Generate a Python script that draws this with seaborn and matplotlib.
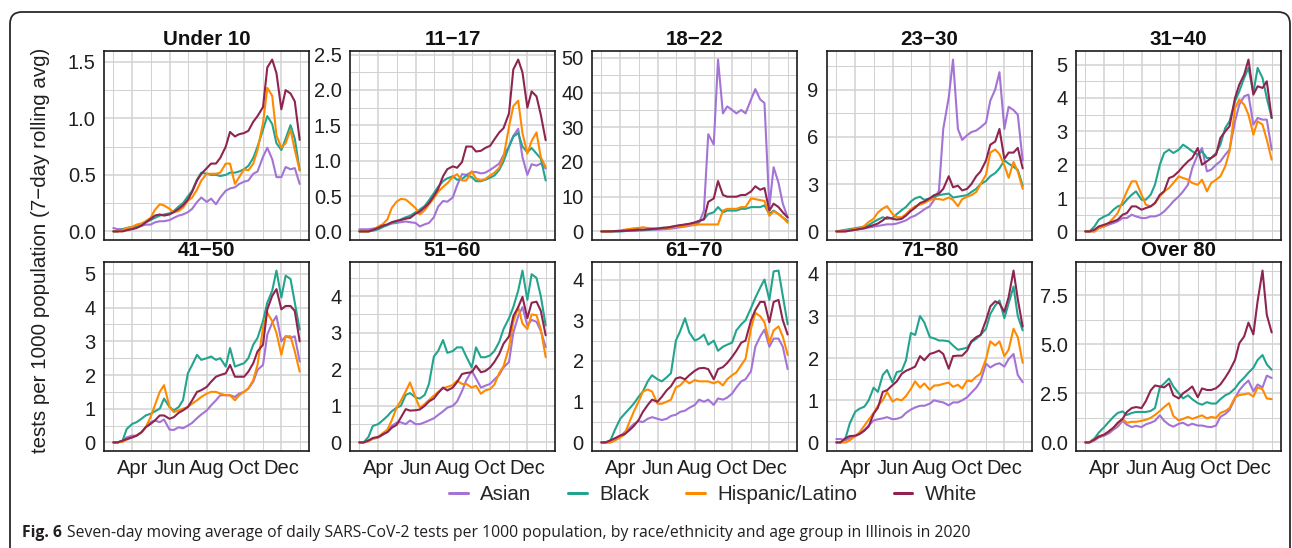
import matplotlib
matplotlib.use("Agg")
import matplotlib.pyplot as plt
from matplotlib.patches import FancyBboxPatch
from matplotlib.lines import Line2D
from matplotlib.transforms import IdentityTransform
import matplotlib.dates as mdates
import numpy as np
import pandas as pd
import seaborn as sns

# ---------------- data ----------------
DATES = ["2020-03-01", "2020-03-08", "2020-03-16", "2020-03-23",
         "2020-04-01", "2020-04-08", "2020-04-16", "2020-04-23",
         "2020-05-01", "2020-05-08", "2020-05-16", "2020-05-23",
         "2020-06-01", "2020-06-08", "2020-06-16", "2020-06-23",
         "2020-07-01", "2020-07-08", "2020-07-16", "2020-07-23",
         "2020-08-01", "2020-08-08", "2020-08-16", "2020-08-23",
         "2020-09-01", "2020-09-08", "2020-09-16", "2020-09-23",
         "2020-10-01", "2020-10-08", "2020-10-16", "2020-10-23",
         "2020-11-01", "2020-11-08", "2020-11-16", "2020-11-23",
         "2020-12-01", "2020-12-08", "2020-12-16", "2020-12-23",
         "2020-12-31"]

RACES = ["Asian", "Black", "Hispanic/Latino", "White"]
GROUPS = ["Under 10", "11\u221217", "18\u221222", "23\u221230", "31\u221240",
          "41\u221250", "51\u221260", "61\u221270", "71\u221280", "Over 80"]

u10_asian = [0.03,0.02,0.02,0.02, 0.03,0.04,0.05,0.06, 0.06,0.08,0.09,0.09, 0.10,0.12,0.14,0.15, 0.17,0.20,0.26,0.30, 0.26,0.29,0.24,0.30, 0.36,0.38,0.39,0.42, 0.44,0.45,0.51,0.53, 0.66,0.74,0.64,0.48, 0.48,0.57,0.55,0.56, 0.42]
u10_black = [0,0,0.02,0.03, 0.04,0.04,0.06,0.08, 0.10,0.12,0.14,0.15, 0.16,0.18,0.22,0.25, 0.31,0.36,0.46,0.52, 0.51,0.50,0.50,0.49, 0.50,0.52,0.52,0.53, 0.55,0.58,0.65,0.75, 0.90,1.02,0.95,0.78, 0.72,0.82,0.94,0.82, 0.54]
u10_hisp = [0,0,0.01,0.03, 0.04,0.06,0.07,0.09, 0.12,0.19,0.24,0.23, 0.20,0.17,0.18,0.21, 0.27,0.30,0.37,0.45, 0.51,0.51,0.51,0.52, 0.60,0.60,0.42,0.48, 0.55,0.54,0.60,0.72, 0.96,1.27,1.20,0.85, 0.74,0.78,0.90,0.72, 0.54]
u10_white = [0,0,0,0.01, 0.02,0.03,0.05,0.08, 0.11,0.14,0.15,0.14, 0.15,0.17,0.20,0.23, 0.28,0.35,0.45,0.51, 0.56,0.60,0.60,0.65, 0.75,0.88,0.84,0.86, 0.87,0.89,0.97,1.02, 1.10,1.45,1.52,1.40, 1.08,1.25,1.22,1.15, 0.81]

g1117_asian = [0.03,0.03,0.03,0.04, 0.05,0.07,0.09,0.11, 0.12,0.13,0.14,0.13, 0.12,0.07,0.10,0.12, 0.20,0.35,0.43,0.42, 0.48,0.65,0.81,0.80, 0.84,0.84,0.82,0.83, 0.87,0.91,0.96,1.08, 1.20,1.35,1.45,1.05, 0.80,0.95,0.93,0.96, 0.89]
g1117_black = [0,0,0,0.01, 0.03,0.06,0.09,0.12, 0.14,0.17,0.20,0.22, 0.27,0.31,0.36,0.44, 0.54,0.63,0.71,0.75, 0.78,0.73,0.74,0.79, 0.77,0.71,0.71,0.73, 0.76,0.79,0.87,0.99, 1.20,1.34,1.39,1.20, 1.12,1.18,1.10,1.03, 0.72]
g1117_hisp = [0,0,0,0.02, 0.07,0.10,0.17,0.33, 0.42,0.46,0.45,0.40, 0.33,0.24,0.30,0.38, 0.47,0.56,0.63,0.68, 0.77,0.81,0.72,0.72, 0.85,0.75,0.72,0.74, 0.79,0.83,0.90,1.05, 1.48,1.77,1.85,1.39, 1.10,1.28,1.40,1.05, 0.91]
g1117_white = [0,0,0,0.02, 0.05,0.08,0.10,0.13, 0.15,0.16,0.18,0.19, 0.25,0.28,0.34,0.40, 0.50,0.60,0.78,0.88, 0.92,0.90,0.98,1.20, 1.20,1.13,1.14,1.18, 1.21,1.30,1.40,1.46, 1.67,2.29,2.43,2.25, 1.75,1.98,1.91,1.65, 1.29]

g1822_asian = [0,0,0,0, 0.1,0.1,0.2,0.2, 0.3,0.3,0.4,0.5, 0.5,0.6,0.7,0.8, 1.0,1.2,1.4,1.6, 2.0,2.5,6.0,28.0, 25.0,49.5,34.0,36.0, 35.0,34.0,35.0,34.0, 38.0,41.0,38.0,37.0, 7.0,18.5,14.0,8.0, 4.0]
g1822_black = [0,0,0,0, 0,0.1,0.2,0.2, 0.3,0.4,0.5,0.6, 0.8,1.0,1.1,1.3, 1.5,1.7,1.9,2.1, 2.5,3.0,3.5,5.0, 5.5,7.0,5.5,6.0, 6.0,6.0,6.5,6.5, 7.0,7.0,7.0,7.5, 5.0,6.0,5.0,4.0, 3.0]
g1822_hisp = [0,0,0,0.1, 0.3,0.5,0.7,0.9, 1.0,1.2,1.0,0.9, 0.9,1.0,1.0,1.1, 1.3,1.5,1.6,1.8, 1.8,2.0,2.0,2.0, 2.0,2.0,6.0,6.5, 6.5,6.5,7.0,7.0, 9.5,9.3,9.0,8.8, 4.5,5.8,5.0,4.0, 2.5]
g1822_white = [0,0,0,0.1, 0.1,0.2,0.3,0.4, 0.5,0.5,0.6,0.7, 0.8,1.0,1.1,1.3, 1.6,1.8,2.0,2.2, 2.6,3.0,3.5,8.5, 9.5,14.5,10.5,10.0, 10.0,10.0,10.5,10.5, 11.5,13.0,12.0,12.5, 6.0,8.0,7.0,5.5, 4.0]

g2330_asian = [0,0,0,0.05, 0.1,0.15,0.2,0.25, 0.3,0.35,0.4,0.45, 0.45,0.5,0.6,0.7, 0.9,1.0,1.2,1.4, 1.6,2.0,2.6,6.5, 8.5,10.9,6.5,5.8, 6.1,6.3,6.4,6.6, 6.9,8.3,9.0,10.1, 6.5,7.9,7.7,7.4, 4.5]
g2330_black = [0,0.05,0.1,0.15, 0.2,0.25,0.3,0.4, 0.6,0.75,0.9,0.8, 0.85,1.1,1.35,1.55, 1.9,2.1,2.2,2.0, 2.1,2.2,2.3,2.35, 2.4,2.15,2.2,2.25, 2.3,2.5,2.7,3.0, 3.2,3.5,3.7,4.0, 4.5,4.3,4.1,3.9, 2.9]
g2330_hisp = [0,0,0.05,0.1, 0.15,0.2,0.35,0.6, 0.8,1.2,1.45,1.6, 1.1,0.9,0.9,1.1, 1.4,1.6,1.7,1.8, 2.0,2.05,2.05,2.0, 2.15,2.0,1.6,2.05, 2.2,2.3,2.5,3.0, 3.6,5.0,5.2,4.9, 4.2,3.4,4.4,3.8, 2.7]
g2330_white = [0,0,0,0.05, 0.1,0.15,0.2,0.3, 0.4,0.5,0.7,0.9, 0.8,0.75,0.8,1.0, 1.3,1.5,1.8,1.9, 2.1,2.3,2.4,2.7, 3.5,2.8,2.9,2.6, 2.7,3.0,3.5,3.8, 4.5,5.5,5.7,6.5, 4.6,5.0,5.0,5.3, 4.0]

g3140_asian = [0,0,0,0.1, 0.15,0.2,0.25,0.3, 0.4,0.4,0.5,0.45, 0.4,0.4,0.45,0.45, 0.5,0.6,0.75,0.9, 1.05,1.2,1.4,1.9, 2.3,2.5,1.8,1.85, 2.0,2.1,2.3,2.45, 3.3,3.8,4.05,4.1, 3.2,3.4,3.35,3.35, 2.45]
g3140_black = [0,0,0.15,0.35, 0.45,0.5,0.65,0.75, 0.8,0.95,1.1,1.2, 0.95,0.95,1.1,1.4, 2.0,2.35,2.45,2.35, 2.45,2.6,2.5,2.4, 2.3,2.4,2.2,2.2, 2.35,2.6,3.1,3.3, 3.9,4.2,4.6,4.9, 4.15,4.9,4.6,4.0, 3.4]
g3140_hisp = [0,0,0,0.1, 0.15,0.25,0.4,0.55, 0.9,1.2,1.5,1.5, 1.1,0.8,0.75,0.85, 1.05,1.2,1.3,1.45, 1.65,1.6,1.55,1.45, 1.4,1.55,1.2,1.45, 1.55,1.65,1.95,2.4, 3.7,3.95,3.8,3.5, 2.9,3.3,3.2,2.75, 2.15]
g3140_white = [0,0,0.05,0.15, 0.2,0.25,0.3,0.35, 0.5,0.55,0.75,0.75, 0.65,0.7,0.75,0.85, 1.1,1.2,1.6,1.65, 1.8,1.95,2.1,2.2, 2.5,2.0,2.1,2.2, 2.3,2.8,3.0,3.15, 4.0,4.4,4.7,5.15, 4.1,4.35,4.3,4.5, 3.4]

g4150_asian = [0,0,0.05,0.15, 0.2,0.2,0.3,0.45, 0.6,0.65,0.6,0.68, 0.38,0.37,0.45,0.42, 0.5,0.58,0.72,0.83, 0.95,1.1,1.25,1.4, 1.4,1.4,1.35,1.45, 1.5,1.6,1.8,2.15, 2.3,3.2,3.55,3.75, 3.0,3.15,3.1,3.15, 2.4]
g4150_black = [0,0,0.05,0.4, 0.55,0.6,0.7,0.8, 0.85,0.92,1.0,1.3, 1.05,0.95,1.05,1.25, 2.05,2.3,2.6,2.45, 2.5,2.55,2.45,2.5, 2.25,2.8,2.25,2.3, 2.35,2.5,2.9,3.1, 3.6,4.15,4.5,5.1, 4.3,4.95,4.85,4.15, 3.35]
g4150_hisp = [0,0,0.02,0.08, 0.15,0.2,0.3,0.45, 0.75,1.1,1.5,1.7, 1.05,0.9,0.95,1.0, 1.05,1.15,1.25,1.35, 1.45,1.5,1.5,1.45, 1.4,1.4,1.25,1.4, 1.5,1.6,1.85,2.3, 3.4,3.85,3.6,3.25, 2.6,3.15,3.15,2.7, 2.1]
g4150_white = [0,0,0.05,0.1, 0.15,0.2,0.3,0.45, 0.55,0.65,0.8,0.8, 0.7,0.75,0.88,0.95, 1.05,1.25,1.5,1.55, 1.65,1.8,1.95,2.0, 2.05,2.3,1.95,1.95, 1.95,2.1,2.35,2.7, 2.9,3.95,4.35,4.55, 3.95,4.05,4.05,3.9, 3.0]

g5160_asian = [0,0,0.05,0.1, 0.13,0.2,0.3,0.45, 0.54,0.55,0.5,0.6, 0.5,0.5,0.55,0.6, 0.66,0.75,0.85,0.95, 1.0,1.12,1.4,1.7, 1.96,1.75,1.5,1.55, 1.6,1.72,1.85,2.05, 2.2,3.0,3.45,3.7, 3.2,3.35,3.3,3.05, 2.61]
g5160_black = [0,0,0.15,0.45, 0.5,0.6,0.72,0.85, 0.95,1.0,1.3,1.35, 1.23,1.2,1.3,1.6, 2.35,2.5,2.8,2.45, 2.5,2.6,2.6,2.35, 2.05,2.6,2.33,2.33, 2.38,2.5,2.75,3.1, 3.4,3.7,4.15,4.7, 3.9,4.6,4.5,4.0, 3.2]
g5160_hisp = [0,0,0.03,0.1, 0.14,0.25,0.35,0.6, 0.95,1.14,1.4,1.64, 1.23,0.95,1.05,1.16, 1.28,1.38,1.48,1.52, 1.57,1.69,1.6,1.6, 1.5,1.55,1.33,1.42, 1.46,1.58,1.9,2.08, 2.6,3.3,3.7,3.25, 3.1,3.5,3.48,3.1, 2.33]
g5160_white = [0,0,0.05,0.12, 0.15,0.22,0.28,0.4, 0.48,0.68,0.91,0.87, 0.88,0.9,1.0,1.12, 1.2,1.35,1.5,1.42, 1.5,1.65,1.87,1.9, 1.92,2.1,1.92,1.95, 2.05,2.2,2.42,2.7, 2.9,3.45,3.7,3.98, 3.4,3.82,3.85,3.6, 2.93]

g6170_asian = [0,0,0,0.05, 0.15,0.25,0.35,0.45, 0.52,0.5,0.58,0.62, 0.58,0.55,0.58,0.65, 0.68,0.75,0.78,0.85, 0.92,1.05,1.0,1.05, 0.92,1.08,1.05,1.1, 1.2,1.35,1.5,1.55, 1.75,2.35,2.6,2.77, 2.35,2.55,2.55,2.35, 1.8]
g6170_black = [0,0,0.05,0.3, 0.58,0.7,0.83,0.95, 1.12,1.25,1.5,1.65, 1.55,1.5,1.6,1.7, 2.5,2.73,3.05,2.7, 2.5,2.55,2.65,2.4, 2.5,2.25,2.35,2.4, 2.45,2.75,2.9,3.0, 3.3,3.55,3.8,4.0, 3.5,4.2,4.22,3.6, 2.9]
g6170_hisp = [0,0,0,0.05, 0.12,0.2,0.5,0.75, 1.0,1.25,1.3,1.25, 0.95,0.95,1.0,1.05, 1.35,1.4,1.53,1.45, 1.53,1.5,1.5,1.5, 1.45,1.5,1.4,1.55, 1.65,1.72,1.9,2.05, 2.8,3.18,3.1,2.95, 2.45,2.75,2.85,2.6, 2.15]
g6170_white = [0,0,0.05,0.1, 0.17,0.2,0.3,0.4, 0.55,0.75,0.92,1.05, 1.0,1.12,1.28,1.38, 1.57,1.6,1.55,1.65, 1.76,1.82,1.83,1.8, 1.55,1.8,1.85,1.95, 2.1,2.25,2.45,2.5, 3.0,3.25,3.45,3.45, 2.95,3.45,3.5,3.0, 2.65]

g7180_asian = [0.08,0.08,0.05,0.1, 0.15,0.2,0.3,0.4, 0.52,0.55,0.57,0.6, 0.55,0.56,0.6,0.7, 0.78,0.83,0.87,0.87, 0.92,1.0,0.97,0.95, 0.88,0.95,0.95,1.0, 1.07,1.18,1.3,1.45, 1.87,1.78,1.85,1.88, 1.8,1.98,2.1,1.6, 1.43]
g7180_black = [0,0,0.1,0.45, 0.73,0.8,0.85,1.0, 1.3,1.2,1.6,1.72, 1.42,1.67,1.7,1.95, 2.6,2.55,3.0,2.85, 2.5,2.47,2.42,2.42, 2.4,2.3,2.2,2.22, 2.25,2.38,2.46,2.55, 2.7,3.05,3.25,3.37, 2.95,3.3,3.7,3.0, 2.66]
g7180_hisp = [0,0,0,0.05, 0.15,0.24,0.4,0.54, 0.7,0.87,1.0,1.2, 0.97,1.03,1.0,1.1, 1.27,1.45,1.3,1.4, 1.25,1.35,1.36,1.39, 1.42,1.32,1.37,1.28, 1.47,1.45,1.56,1.63, 1.98,2.4,2.3,2.4, 2.05,2.2,2.7,2.5, 1.89]
g7180_white = [0,0,0.1,0.15, 0.16,0.2,0.28,0.38, 0.68,0.82,1.2,1.24, 1.36,1.45,1.63,1.7, 1.75,1.8,2.05,1.95, 2.1,2.13,2.18,2.1, 1.75,2.05,2.06,2.06, 2.18,2.4,2.5,2.55, 2.9,3.23,3.35,3.3, 3.1,3.45,4.08,3.4, 2.75]

o80_asian = [0,0,0.1,0.25, 0.35,0.45,0.65,0.8, 1.1,0.9,0.78,0.84, 0.78,0.92,1.0,1.1, 1.38,1.1,0.9,0.8, 0.95,1.0,0.86,0.95, 0.86,0.86,0.8,0.78, 0.86,1.3,1.45,1.65, 2.24,2.65,2.95,3.15, 2.6,2.95,2.8,3.4, 3.28]
o80_black = [0,0.02,0.2,0.5, 0.78,1.03,1.3,1.5, 1.58,1.4,1.5,1.55, 1.55,1.55,1.6,1.75, 2.8,3.0,3.25,2.85, 2.5,2.24,2.4,2.2, 2.0,1.92,2.05,1.98, 1.98,2.2,2.4,2.5, 2.75,3.05,3.3,3.55, 3.8,4.2,4.45,3.97, 3.7]
o80_hisp = [0,0,0.15,0.3, 0.4,0.55,0.75,0.95, 1.2,1.0,1.05,1.05, 1.1,1.15,1.25,1.4, 1.6,1.8,2.0,1.35, 1.12,1.2,1.3,1.2, 1.3,1.38,1.22,1.3, 1.25,1.5,1.6,1.75, 2.3,2.41,2.45,2.5, 2.33,2.8,2.7,2.24, 2.2]
o80_white = [0,0,0.15,0.3, 0.4,0.55,0.75,1.0, 1.2,1.55,1.75,1.8, 1.75,2.1,2.65,2.9, 2.85,2.8,3.0,2.4, 2.24,2.5,2.67,2.85, 2.3,2.75,2.67,2.67, 2.76,2.95,3.3,3.65, 4.2,5.05,5.4,6.1, 5.5,7.2,8.75,6.5, 5.6]

SERIES = [
    [u10_asian, u10_black, u10_hisp, u10_white],
    [g1117_asian, g1117_black, g1117_hisp, g1117_white],
    [g1822_asian, g1822_black, g1822_hisp, g1822_white],
    [g2330_asian, g2330_black, g2330_hisp, g2330_white],
    [g3140_asian, g3140_black, g3140_hisp, g3140_white],
    [g4150_asian, g4150_black, g4150_hisp, g4150_white],
    [g5160_asian, g5160_black, g5160_hisp, g5160_white],
    [g6170_asian, g6170_black, g6170_hisp, g6170_white],
    [g7180_asian, g7180_black, g7180_hisp, g7180_white],
    [o80_asian, o80_black, o80_hisp, o80_white],
]

TICK_STEP = [0.5, 0.5, 10, 3, 1, 1, 1, 1, 1, 2.5]
TICK_DEC = [1, 1, 0, 0, 0, 0, 0, 0, 0, 1]
MONTH_MAJOR = ["2020-04-01", "2020-06-01", "2020-08-01", "2020-10-01", "2020-12-01"]
MONTH_LABELS = ["Apr", "Jun", "Aug", "Oct", "Dec"]
MONTH_MINOR = ["2020-03-01", "2020-05-01", "2020-07-01", "2020-09-01", "2020-11-01", "2021-01-01"]

COLORS = ["#a373d6", "#23a48e", "#ff8a00", "#8e2450"]

CAPTION_BOLD = "Fig. 6"
CAPTION = ("Seven-day moving average of daily SARS-CoV-2 tests per 1000 population, "
           "by race/ethnicity and age group in Illinois in 2020")
YLABEL = "tests per 1000 population (7\u2212day rolling avg)"

# ---------------- long table ----------------
rows = []
for g, lists in zip(GROUPS, SERIES):
    for race, vals in zip(RACES, lists):
        assert len(vals) == len(DATES), (g, race, len(vals))
        for d, v in zip(DATES, vals):
            rows.append((g, race, pd.Timestamp(d), v))
df = pd.DataFrame(rows, columns=["group", "race", "date", "value"])

# ---------------- style ----------------
sns.set_style("white")
plt.rcParams["font.family"] = ["Liberation Sans", "DejaVu Sans"]

W, H = 1292, 548
fig = plt.figure(figsize=(W / 100, H / 100), dpi=100)

LEFTS = [104, 350, 592, 827, 1076]
TOPS = [51, 262]
PW, PH = 205, 189

x0 = mdates.date2num(pd.Timestamp(DATES[0]))
x1 = mdates.date2num(pd.Timestamp(DATES[-1]))
xpad = 0.05 * (x1 - x0)

GRID_C = "#d2d2d2"
for i, g in enumerate(GROUPS):
    r, c = divmod(i, 5)
    ax = fig.add_axes([LEFTS[c] / W, 1 - (TOPS[r] + PH) / H, PW / W, PH / H])
    sub = df[df["group"] == g]
    sns.lineplot(data=sub, x="date", y="value", hue="race", hue_order=RACES,
                 palette=COLORS, ax=ax, legend=False, linewidth=1.5,
                 estimator=None)
    ax.set_xlim(x0 - xpad, x1 + xpad)
    vmin, vmax = sub["value"].min(), sub["value"].max()
    ypad = 0.05 * (vmax - vmin)
    ax.set_ylim(vmin - ypad, vmax + ypad)
    step = TICK_STEP[i]
    major = np.arange(0, vmax + ypad + 1e-9, step)
    minor = major + step / 2
    minor = minor[minor < vmax + ypad]
    ax.set_yticks(major)
    ax.set_yticks(minor, minor=True)
    ax.set_yticklabels([f"{v:.{TICK_DEC[i]}f}" for v in major])
    ax.set_xticks(pd.to_datetime(MONTH_MAJOR))
    ax.set_xticks(pd.to_datetime(MONTH_MINOR), minor=True)
    ax.set_xlabel("")
    ax.set_ylabel("")
    ax.grid(True, which="major", color=GRID_C, linewidth=1.1)
    ax.grid(True, which="minor", color=GRID_C, linewidth=0.75)
    ax.set_axisbelow(True)
    for s in ax.spines.values():
        s.set_visible(True)
        s.set_color("#1a1a1a")
        s.set_linewidth(1.2)
    ax.tick_params(axis="both", which="major", direction="out", length=3.5,
                   width=0.9, color="#333333", labelsize=14.5, labelcolor="#1f1f1f",
                   pad=2.5)
    ax.tick_params(axis="both", which="minor", length=0)
    if r == 1:
        ax.set_xticklabels(MONTH_LABELS)
    else:
        ax.tick_params(axis="x", which="both", length=0, labelbottom=False)
    ax.set_title(g, fontsize=14.8, fontweight="bold", pad=4, color="#111111")

# shared y label
fig.text(41 / W, 1 - 250 / H, YLABEL, rotation=90, ha="center", va="center",
         fontsize=14.8, color="#1f1f1f")

# legend
handles = [Line2D([], [], color=col, linewidth=2.2) for col in COLORS]
fig.legend(handles, RACES, loc="center", bbox_to_anchor=(713 / W, 1 - 495 / H),
           ncol=4, frameon=False, fontsize=14.8, handlelength=0.9,
           handletextpad=0.6, columnspacing=1.8)

# rounded border
border = FancyBboxPatch((10, -30), 1280, H - 12 + 30,
                        boxstyle="round,pad=0,rounding_size=12",
                        transform=IdentityTransform(), fill=False,
                        edgecolor="#2a2a2a", linewidth=1.3)
fig.add_artist(border)

# caption
fig.canvas.draw()
rend = fig.canvas.get_renderer()
cy = 1 - 533 / H
probe = fig.text(0, 0, CAPTION_BOLD + " " + CAPTION, fontsize=10, family="Open Sans")
pw = probe.get_window_extent(rend).width
probe.remove()
cs = 10 * 946 / pw
t1 = fig.text(22 / W, cy, CAPTION_BOLD, fontsize=cs, family="Open Sans",
              fontweight="bold", color="#231f20", va="center")
bb = t1.get_window_extent(rend)
fig.text((bb.x1 + 0.3 * cs * 100 / 72) / W, cy, CAPTION, fontsize=cs,
         family="Open Sans", color="#231f20", va="center")

fig.savefig("out.png", dpi=100)
